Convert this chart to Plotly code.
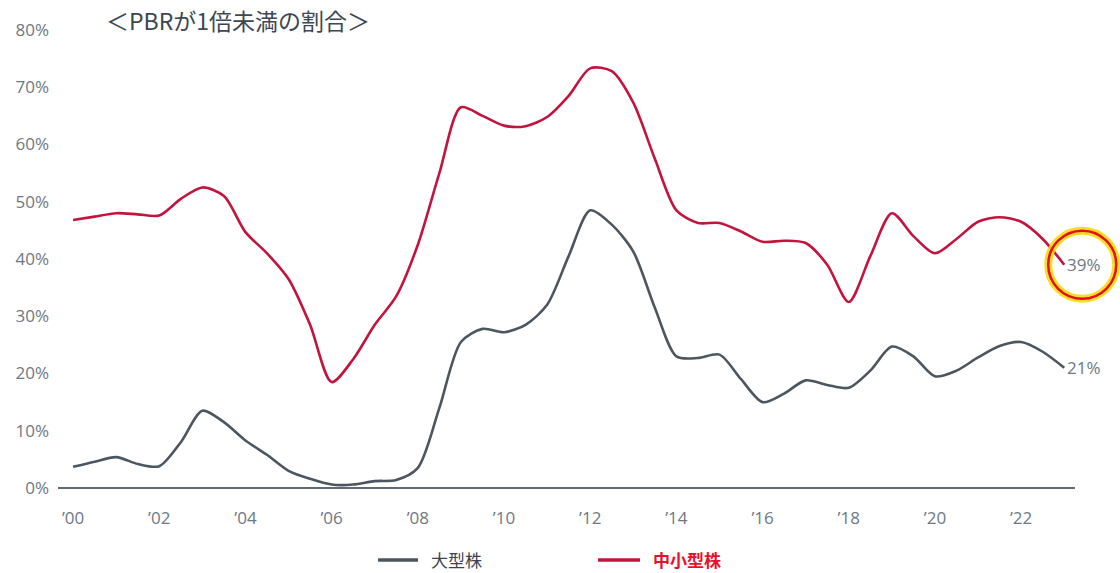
import plotly.graph_objects as go

years = [2000.0, 2000.5, 2001.0, 2001.5, 2002.0, 2002.5, 2003.0, 2003.5, 2004.0, 2004.5,
         2005.0, 2005.5, 2006.0, 2006.5, 2007.0, 2007.5, 2008.0, 2008.5, 2009.0, 2009.5,
         2010.0, 2010.5, 2011.0, 2011.5, 2012.0, 2012.5, 2013.0, 2013.5, 2014.0, 2014.5,
         2015.0, 2015.5, 2016.0, 2016.5, 2017.0, 2017.5, 2018.0, 2018.5, 2019.0, 2019.5,
         2020.0, 2020.5, 2021.0, 2021.5, 2022.0, 2022.5, 2023.0]

small_mid = [46.8, 47.4, 48.0, 47.8, 47.6, 50.5, 52.5, 51.0, 44.7, 41.0,
             36.5, 28.5, 18.5, 22.5, 28.5, 33.5, 42.5, 55.0, 66.5, 65.0,
             63.3, 63.2, 64.8, 68.5, 73.3, 72.8, 67.3, 57.5, 48.5, 46.3,
             46.3, 44.8, 43.0, 43.2, 42.8, 39.0, 32.5, 40.5, 48.0, 44.0,
             41.0, 43.5, 46.5, 47.3, 46.5, 43.5, 39.0]

large = [3.7, 4.6, 5.4, 4.2, 3.8, 8.0, 13.5, 11.5, 8.3, 5.8,
         3.0, 1.6, 0.6, 0.6, 1.2, 1.4, 3.5, 14.0, 25.5, 27.8,
         27.2, 28.5, 32.0, 40.5, 48.5, 46.0, 41.3, 31.5, 23.0, 22.7,
         23.3, 19.0, 15.0, 16.5, 18.8, 18.0, 17.5, 20.5, 24.7, 23.0,
         19.5, 20.5, 22.8, 24.8, 25.5, 23.8, 21.0]

tick_years = [2000, 2002, 2004, 2006, 2008, 2010, 2012, 2014, 2016, 2018, 2020, 2022]
tick_text = ["’00", "’02", "’04", "’06", "’08", "’10", "’12", "’14", "’16", "’18", "’20", "’22"]
y_ticks = [0, 10, 20, 30, 40, 50, 60, 70, 80]
y_text = ["0%", "10%", "20%", "30%", "40%", "50%", "60%", "70%", "80%"]

title_text = "＜PBRが1倍未満の割合＞"
name_large = "大型株"
name_small = "中小型株"

GRAY = "#4b5661"
RED = "#c3143e"
TICK = "#6d7885"

X_RANGE = [1999.65, 2023.25]
Y_RANGE = [0, 80]

fig = go.Figure()
fig.add_trace(go.Scatter(x=years, y=large, mode="lines", name=name_large, showlegend=False,
                         line=dict(color=GRAY, width=2.6, shape="spline", smoothing=0.8)))
fig.add_trace(go.Scatter(x=years, y=small_mid, mode="lines", name=name_small, showlegend=False,
                         line=dict(color=RED, width=2.6, shape="spline", smoothing=0.8)))

fig.update_layout(
    width=1120, height=573,
    margin=dict(l=58, r=45, t=30, b=85),
    plot_bgcolor="white", paper_bgcolor="white",
    font=dict(family="Open Sans, Noto Sans CJK JP", size=16, color=TICK),
    showlegend=False,
    xaxis=dict(range=X_RANGE, tickmode="array", tickvals=tick_years,
               ticktext=tick_text, showgrid=False, zeroline=False, showline=False,
               ticks="", ticklabelstandoff=18, tickfont=dict(size=17, color=TICK)),
    yaxis=dict(range=Y_RANGE, tickmode="array", tickvals=y_ticks, ticktext=y_text,
               showgrid=False, zeroline=True, zerolinecolor="#5f6a73", zerolinewidth=2,
               showline=False, ticks="", ticklabelstandoff=8,
               tickfont=dict(size=17, color=TICK)),
)

fig.add_annotation(text=title_text, xref="paper", yref="paper", x=0.045, y=1.022,
                   xanchor="left", yanchor="middle", showarrow=False,
                   font=dict(family="Noto Sans CJK JP", size=23, color="#3d4752"))

fig.add_annotation(text=f"{small_mid[-1]:.0f}%", x=years[-1], y=small_mid[-1],
                   xanchor="left", yanchor="middle", xshift=1, showarrow=False,
                   font=dict(size=17, color=TICK))
fig.add_annotation(text=f"{large[-1]:.0f}%", x=years[-1], y=large[-1],
                   xanchor="left", yanchor="middle", xshift=1, showarrow=False,
                   font=dict(size=17, color=TICK))

# legend (drawn manually to keep its place below the axis)
LEG_Y = -0.157
legend_items = [
    (name_large, GRAY, "#3a4450", False, 0.3147, 0.354, 0.3658),
    (name_small, "#c3143e", "#e8102a", True, 0.531, 0.5723, 0.584),
]
for label, lcol, tcol, bold, x0, x1, xt in legend_items:
    fig.add_shape(type="line", xref="paper", yref="paper", x0=x0, x1=x1, y0=LEG_Y, y1=LEG_Y,
                  line=dict(color=lcol, width=3.5))
    fig.add_annotation(text=f"<b>{label}</b>" if bold else label, xref="paper", yref="paper",
                       x=xt, y=LEG_Y, xanchor="left", yanchor="middle", showarrow=False,
                       borderpad=0, font=dict(family="Noto Sans CJK JP", size=17, color=tcol))

# highlight ring around the latest 中小型株 value
px = (years[-1] - X_RANGE[0]) / (X_RANGE[1] - X_RANGE[0])
py = (small_mid[-1] - Y_RANGE[0]) / (Y_RANGE[1] - Y_RANGE[0])
for col, w in [("rgba(250,215,0,0.85)", 8), ("#e3101f", 2.5)]:
    fig.add_shape(type="circle", xref="paper", yref="paper", xsizemode="pixel", ysizemode="pixel",
                  xanchor=px, yanchor=py, x0=-16, x1=52, y0=-34, y1=34,
                  line=dict(color=col, width=w), layer="above")

fig.write_html("out.html")
